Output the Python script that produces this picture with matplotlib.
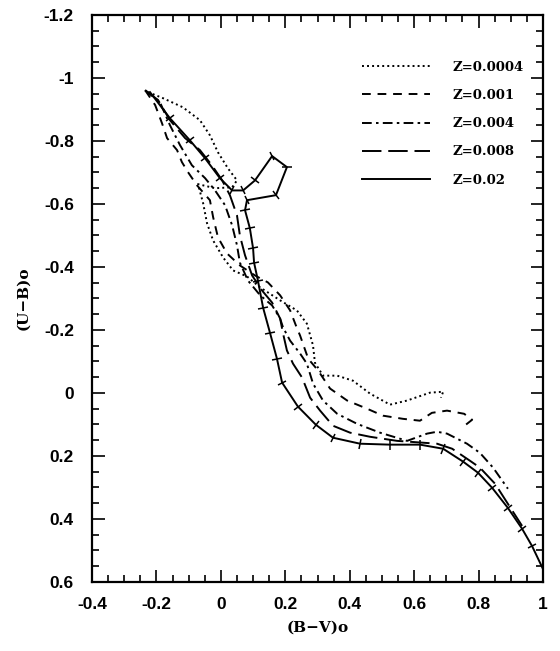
import numpy as np
import matplotlib.pyplot as plt
from matplotlib.markers import MarkerStyle
from matplotlib.ticker import MultipleLocator
from matplotlib.transforms import Affine2D

# (B-V)o, (U-B)o tracks
bv_0004 = [-0.226, -0.180, -0.118, -0.065, -0.034, -0.009, 0.022, 0.050, 0.035, -0.018,
           -0.071, -0.055, -0.043, -0.024, 0.007, 0.038, 0.081, 0.122, 0.184, 0.236,
           0.267, 0.286, 0.292, 0.317, 0.361, 0.410, 0.463, 0.525, 0.578, 0.649, 0.690, 0.683]
ub_0004 = [-0.955, -0.936, -0.907, -0.866, -0.818, -0.764, -0.713, -0.675, -0.653, -0.650,
           -0.663, -0.602, -0.539, -0.484, -0.430, -0.389, -0.370, -0.335, -0.294, -0.262,
           -0.220, -0.151, -0.096, -0.055, -0.055, -0.039, 0.002, 0.037, 0.024, -0.001, -0.004, 0.015]

bv_001 = [-0.235, -0.204, -0.183, -0.167, -0.136, -0.121, -0.102, -0.074, -0.034, -0.024,
          -0.009, 0.019, 0.059, 0.106, 0.146, 0.184, 0.215, 0.233, 0.246, 0.271,
          0.302, 0.339, 0.392, 0.454, 0.503, 0.565, 0.618, 0.655, 0.702, 0.755, 0.780, 0.745]
ub_001 = [-0.961, -0.914, -0.857, -0.809, -0.771, -0.733, -0.701, -0.659, -0.612, -0.558,
          -0.494, -0.443, -0.405, -0.373, -0.351, -0.310, -0.262, -0.214, -0.182, -0.109,
          -0.071, -0.014, 0.024, 0.050, 0.072, 0.082, 0.088, 0.063, 0.056, 0.066, 0.085, 0.113]

bv_004 = [-0.235, -0.189, -0.158, -0.127, -0.090, -0.049, -0.018, 0.013, 0.035, 0.050,
          0.059, 0.084, 0.122, 0.159, 0.184, 0.193, 0.215, 0.246, 0.267, 0.286,
          0.317, 0.361, 0.423, 0.494, 0.578, 0.640, 0.671, 0.702, 0.764, 0.804, 0.845, 0.891]
ub_004 = [-0.961, -0.923, -0.850, -0.787, -0.723, -0.682, -0.643, -0.596, -0.532, -0.469,
          -0.414, -0.357, -0.310, -0.278, -0.236, -0.208, -0.166, -0.125, -0.093, -0.030,
          0.024, 0.066, 0.098, 0.126, 0.152, 0.129, 0.123, 0.129, 0.161, 0.190, 0.237, 0.304]

bv_008 = [-0.235, -0.195, -0.158, -0.111, -0.065, -0.028, 0.004, 0.028, 0.050, 0.059,
          0.075, 0.097, 0.128, 0.159, 0.184, 0.193, 0.205, 0.224, 0.252, 0.277,
          0.308, 0.348, 0.401, 0.463, 0.547, 0.671, 0.718, 0.773, 0.804, 0.851, 0.891, 0.935]
ub_008 = [-0.961, -0.930, -0.866, -0.809, -0.771, -0.723, -0.675, -0.628, -0.564, -0.500,
          -0.437, -0.373, -0.325, -0.287, -0.236, -0.189, -0.135, -0.093, -0.049, 0.015,
          0.056, 0.104, 0.126, 0.139, 0.152, 0.161, 0.177, 0.215, 0.237, 0.288, 0.352, 0.422]

bv_02 = [-0.220, -0.158, -0.096, -0.049, -0.003, 0.035, 0.069, 0.106, 0.159, 0.205,
         0.171, 0.081, 0.075, 0.090, 0.100, 0.103, 0.115, 0.131, 0.153, 0.174,
         0.190, 0.239, 0.295, 0.348, 0.432, 0.525, 0.618, 0.690, 0.752, 0.798,
         0.842, 0.891, 0.935, 0.966, 1.000]
ub_02 = [-0.955, -0.872, -0.802, -0.745, -0.682, -0.643, -0.643, -0.675, -0.752, -0.717,
         -0.628, -0.612, -0.580, -0.523, -0.459, -0.414, -0.357, -0.271, -0.189, -0.109,
         -0.033, 0.043, 0.101, 0.142, 0.161, 0.164, 0.164, 0.177, 0.218, 0.253,
         0.301, 0.365, 0.431, 0.486, 0.559]

tracks = [
    ("Z=0.0004", bv_0004, ub_0004, (0, (1, 1.6))),
    ("Z=0.001", bv_001, ub_001, (0, (4.5, 3.5))),
    ("Z=0.004", bv_004, ub_004, (0, (5, 2.2, 1.3, 2.2))),
    ("Z=0.008", bv_008, ub_008, (0, (10, 3.5))),
    ("Z=0.02", bv_02, ub_02, "-"),
]

fig = plt.figure(figsize=(5.6, 6.51), dpi=100)
ax = fig.add_axes([0.1643, 0.106, 0.8054, 0.871])

for label, bv, ub, ls in tracks:
    ax.plot(bv, ub, color="black", lw=1.4, linestyle=ls, label=label)

ax.set_xlim(-0.4, 1.0)
ax.set_ylim(0.6, -1.2)

# small perpendicular age marks on the solar track
x02 = np.array(bv_02)
y02 = np.array(ub_02)
disp = ax.transData.transform(np.column_stack([x02, y02]))
for i in range(1, len(x02) - 1):
    dx, dy = disp[i + 1] - disp[i - 1]
    ang = np.degrees(np.arctan2(dy, dx))
    m = MarkerStyle("|", transform=Affine2D().rotate_deg(ang))
    ax.plot(x02[i], y02[i], marker=m, color="black", markersize=7, mew=1.1)

ax.xaxis.set_major_locator(MultipleLocator(0.2))
ax.xaxis.set_minor_locator(MultipleLocator(0.05))
ax.yaxis.set_major_locator(MultipleLocator(0.2))
ax.yaxis.set_minor_locator(MultipleLocator(0.05))
ax.tick_params(which="both", direction="in", top=True, right=True, width=1.2)
ax.tick_params(which="major", length=9)
ax.tick_params(which="minor", length=5)
ax.tick_params(axis="x", pad=11)
ax.tick_params(axis="y", pad=13)
for s in ax.spines.values():
    s.set_linewidth(1.6)

ax.xaxis.set_major_formatter(plt.FuncFormatter(lambda v, p: f"{v:g}"))
ax.yaxis.set_major_formatter(plt.FuncFormatter(lambda v, p: f"{v:g}"))
for t in ax.get_xticklabels() + ax.get_yticklabels():
    t.set_fontfamily("Liberation Sans")
    t.set_fontweight("bold")
    t.set_fontsize(12.5)

ax.set_xlabel("(B\u2212V)o", fontfamily="DejaVu Serif", fontweight="bold", fontsize=11)
ax.set_ylabel("(U\u2212B)o", fontfamily="DejaVu Serif", fontweight="bold", fontsize=11)
ax.xaxis.set_label_coords(0.5, -0.068)
ax.yaxis.set_label_coords(-0.137, 0.5)

leg = ax.legend(loc="upper left", bbox_to_anchor=(0.599, 0.919), frameon=False,
                borderpad=0, borderaxespad=0, handlelength=5.15, handletextpad=1.67,
                labelspacing=1.15,
                prop={"family": "DejaVu Serif", "weight": "bold", "size": 9.5})

fig.savefig("out.png", dpi=100)
